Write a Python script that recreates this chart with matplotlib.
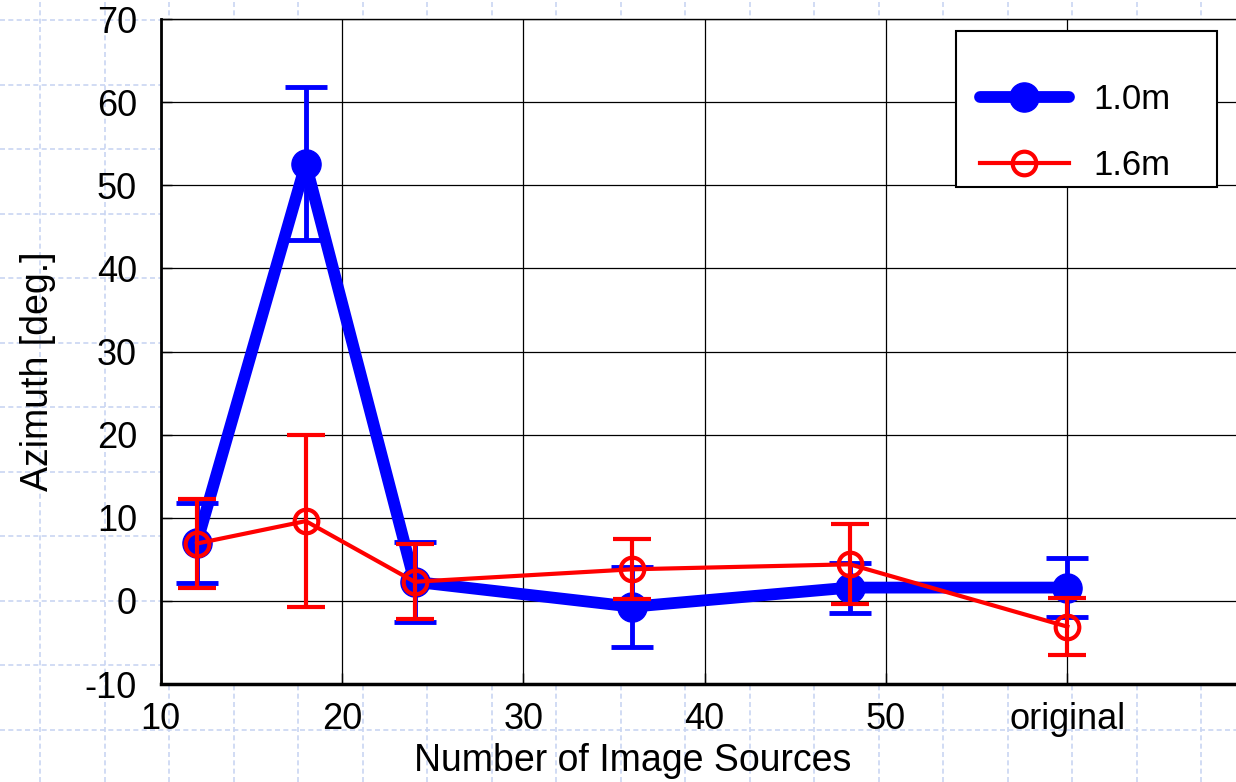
import numpy as np
import matplotlib
matplotlib.use('Agg')
import matplotlib.pyplot as plt
from matplotlib.lines import Line2D
from matplotlib.legend_handler import HandlerLine2D

plt.rcParams['font.family'] = ['Liberation Sans', 'DejaVu Sans']
plt.rcParams['axes.unicode_minus'] = False

# x positions (60 stands for "original")
x_vals = [12, 18, 24, 36, 48, 60]
tick_pos = [10, 20, 30, 40, 50, 60]
tick_labels = ['10', '20', '30', '40', '50', 'original']

# 1.0m series
az_10 = [7.0, 52.6, 2.3, -0.7, 1.6, 1.6]
err_10 = [4.8, 9.2, 4.8, 4.8, 3.0, 3.5]

# 1.6m series
az_16 = [6.9, 9.6, 2.3, 3.8, 4.4, -3.1]
err_16 = [5.4, 10.3, 4.5, 3.6, 4.8, 3.4]

fig = plt.figure(figsize=(12.36, 7.82), dpi=100)

# slide background: light dashed blue grid
bg = fig.add_axes([0, 0, 1, 1], zorder=0)
bg.set_xlim(0, 1236)
bg.set_ylim(782, 0)
bg.set_xticks(np.arange(40, 1236, 64.5))
bg.set_yticks(np.arange(20, 782, 64.5))
bg.grid(True, color='#c9d5f2', linestyle=(0, (3, 2)), linewidth=1.2)
bg.tick_params(length=0, labelbottom=False, labelleft=False)
for s in bg.spines.values():
    s.set_visible(False)

ax = fig.add_axes([0.130, 0.1253, 0.870, 0.8504], zorder=1)
ax.set_facecolor('white')

# error bars
ax.errorbar(x_vals, az_10, yerr=err_10, fmt='none', ecolor='#0000ff',
            elinewidth=3.5, capsize=15, capthick=3.5, zorder=3)
ax.errorbar(x_vals, az_16, yerr=err_16, fmt='none', ecolor='#ff0000',
            elinewidth=3, capsize=14, capthick=3, zorder=4)

# lines and markers
ax.plot(x_vals, az_10, color='#0000ff', linewidth=8.5, marker='o',
        markersize=21, markerfacecolor='#0000ff', markeredgecolor='#0000ff',
        solid_capstyle='round', label='1.0m', zorder=3)
ax.plot(x_vals, az_16, color='#ff0000', linewidth=3, marker='o',
        markersize=17, markerfacecolor='none', markeredgecolor='#ff0000',
        markeredgewidth=3, label='1.6m', zorder=4)

ax.set_xlim(10, 69.3)
ax.set_ylim(-10, 70)
ax.set_xticks(tick_pos)
ax.set_xticklabels(tick_labels)
ax.set_yticks(np.arange(-10, 71, 10))
ax.grid(True, color='black', linewidth=0.9)
ax.set_axisbelow(True)

ax.tick_params(direction='in', length=8, width=1, labelsize=26, pad=13,
               colors='black')
ax.tick_params(axis='y', pad=17)
ax.spines['left'].set_linewidth(2)
ax.spines['bottom'].set_linewidth(2.5)
ax.spines['top'].set_linewidth(1)
ax.spines['right'].set_visible(False)

ax.set_xlabel('Number of Image Sources', fontsize=27)
ax.set_ylabel('Azimuth [deg.]', fontsize=27)
ax.xaxis.set_label_coords(0.439, -0.088)
ax.yaxis.set_label_coords(-0.097, 0.47)

# xpad pushes the handles right inside the legend box
leg = ax.legend(loc='upper left', bbox_to_anchor=(0.7395, 0.5, 0.2428, 0.482),
                mode='expand', fontsize=25, frameon=True, fancybox=False,
                framealpha=1, edgecolor='black', handlelength=3.1,
                labelspacing=0.95, borderpad=0.15, handletextpad=0.7,
                title=' ', title_fontsize=10, borderaxespad=0,
                handler_map={Line2D: HandlerLine2D(xpad=0.55)})
leg.get_frame().set_linewidth(1.5)

fig.savefig('out.png', dpi=100)
